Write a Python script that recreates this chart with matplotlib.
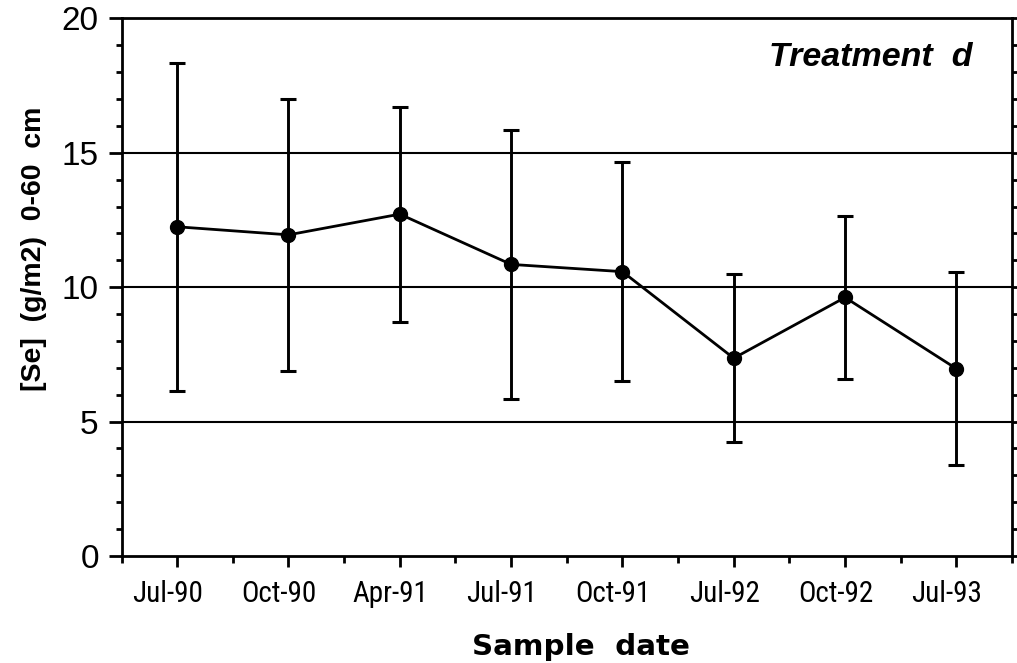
import matplotlib
matplotlib.use("Agg")
import matplotlib.pyplot as plt
import matplotlib.transforms as mtransforms
from matplotlib import font_manager
from matplotlib.ticker import FixedLocator, MultipleLocator

# Selenium inventory, treatment d
sample_dates = ["Jul-90", "Oct-90", "Apr-91", "Jul-91", "Oct-91", "Jul-92", "Oct-92", "Jul-93"]
se_mean = [12.25, 11.95, 12.72, 10.85, 10.58, 7.36, 9.62, 6.97]
se_err = [6.1, 5.06, 4.0, 5.0, 4.08, 3.12, 3.03, 3.6]

y_ticks = [0, 5, 10, 15, 20]
grid_levels = [5, 10, 15]

available = {f.name for f in font_manager.fontManager.ttflist}
narrow = next((n for n in ["Roboto Condensed", "Archivo Narrow", "PT Sans Narrow"] if n in available),
              "Liberation Sans")

fig = plt.figure(figsize=(10.17, 6.63), dpi=100)
ax = fig.add_axes([0.1195, 0.1614, 0.8756, 0.8107])

x = list(range(1, len(sample_dates) + 1))

for lvl in grid_levels:
    ax.axhline(lvl, color="black", lw=1.5, zorder=1)

ax.errorbar(x, se_mean, yerr=se_err, fmt="o-", color="black", ms=10,
            lw=2.0, elinewidth=2.1, capsize=5.5, capthick=2.2, zorder=3)

ax.set_xlim(0.5, len(sample_dates) + 0.5)
ax.set_ylim(0, 20)

# axes frame
for side in ["left", "right", "top", "bottom"]:
    ax.spines[side].set_linewidth(2.0)
    ax.spines[side].set_color("black")

ax.xaxis.set_major_locator(FixedLocator(x))
ax.xaxis.set_minor_locator(FixedLocator([v + 0.5 for v in range(0, len(sample_dates) + 1)]))
ax.set_xticklabels(sample_dates, family=[narrow, "DejaVu Sans"], fontsize=21)
ax.yaxis.set_minor_locator(MultipleLocator(1))
ax.set_yticks(y_ticks)
ax.set_yticklabels([str(v) for v in y_ticks], family=["Liberation Sans", "DejaVu Sans"], fontsize=24)

ax.tick_params(axis="x", which="major", direction="out", length=8, width=2, pad=9)
ax.tick_params(axis="x", which="minor", direction="out", length=5, width=2)
ax.tick_params(axis="y", which="major", direction="out", length=9.4, width=2, pad=7,
               right=True)
ax.tick_params(axis="y", which="minor", direction="out", length=4.3, width=2, right=True)

# x tick labels sit slightly left of their ticks
shift = mtransforms.ScaledTranslation(-9.5 / 100, 0, fig.dpi_scale_trans)
for lab in ax.get_xticklabels():
    lab.set_transform(lab.get_transform() + shift)

fig.text(581 / 1017, 1 - 655 / 663, "Sample  date", ha="center", va="baseline",
         fontsize=21.2, fontweight="bold", family=["DejaVu Sans"])

fig.text(34 / 1017, 1 - 249 / 663, "[Se]  (g/m2)  0-60  cm", rotation=90,
         ha="center", va="center", fontsize=20.5, fontweight="bold",
         family=["Liberation Sans", "DejaVu Sans"])

ax.text(0.956, 0.912, "Treatment  d", transform=ax.transAxes, ha="right", va="baseline",
        fontsize=24.5, fontweight="bold", fontstyle="italic",
        family=["Liberation Sans", "DejaVu Sans"])

fig.savefig("out.png", dpi=100)
